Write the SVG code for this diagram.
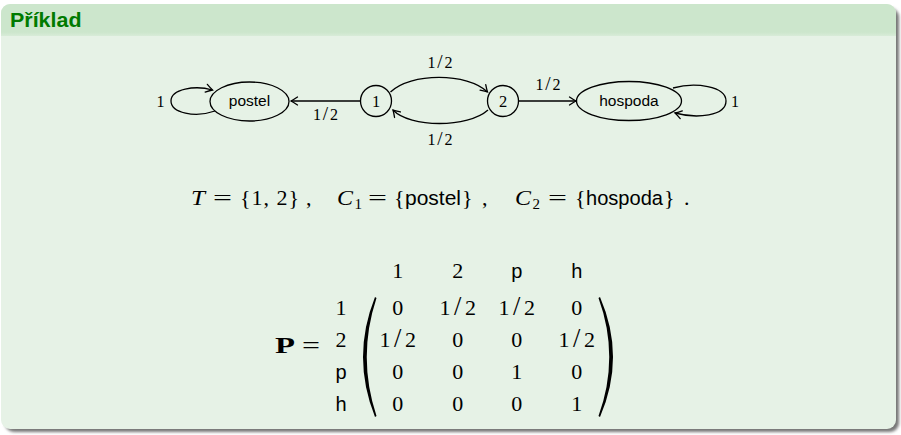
<svg xmlns="http://www.w3.org/2000/svg" width="901" height="435" viewBox="0 0 901 435">
<style>
.serif{font-family:"Liberation Serif","DejaVu Serif",serif;fill:#000}
.sans{font-family:"Liberation Sans","DejaVu Sans",sans-serif;fill:#000}
.it{font-style:italic}
.edge{fill:none;stroke:#000;stroke-width:1.3}
.node{fill:none;stroke:#000;stroke-width:1.3}
.lbl{font-size:16px;text-anchor:middle}
.nt{font-size:15.5px;text-anchor:middle}
.eq{font-size:22px}
.m{font-size:22px;text-anchor:middle}
.ms{font-size:20px;text-anchor:middle}
.sl{font-size:1.2em}
</style>
<defs>
<marker id="arr" markerUnits="userSpaceOnUse" markerWidth="12" markerHeight="12" viewBox="-8 -6 10 12" refX="0" refY="0" orient="auto">
<path d="M-6.5,-4 Q-2,-1 0,0 Q-2,1 -6.5,4" fill="none" stroke="#000" stroke-width="1.3" stroke-linecap="round"/>
</marker>
<filter id="sh" x="-5%" y="-5%" width="110%" height="110%">
<feGaussianBlur stdDeviation="1.5"/>
</filter>
<linearGradient id="hg" x1="0" y1="0" x2="0" y2="1">
<stop offset="0" stop-color="#cce6cc"/>
<stop offset="0.88" stop-color="#cce6cc"/>
<stop offset="1" stop-color="#d8ecd8"/>
</linearGradient>
</defs>

<g id="frame">
<rect x="5" y="8" width="894" height="424" rx="9" fill="#777" filter="url(#sh)"/>
<rect x="1" y="4" width="895" height="425" rx="9" fill="#e6f2e6"/>
<path d="M1,36 V13 A9,9 0 0 1 10,4 H887 A9,9 0 0 1 896,13 V36 Z" fill="url(#hg)"/>
<text x="10" y="27" style="font-family:'Liberation Sans','DejaVu Sans',sans-serif;font-weight:bold;font-size:19.5px;fill:#007a00" textLength="71.5" lengthAdjust="spacingAndGlyphs">Příklad</text>
</g>

<g id="node-postel">
<ellipse class="node" cx="249.5" cy="101.5" rx="39.5" ry="19.5"/>
<text class="sans nt" x="249.5" y="106">postel</text>
</g>
<g id="node-1">
<circle class="node" cx="376" cy="101" r="15.5"/>
<text class="serif" x="376" y="106.5" font-size="16.5" text-anchor="middle">1</text>
</g>
<g id="node-2">
<circle class="node" cx="503" cy="101" r="15.5"/>
<text class="serif" x="503" y="106.5" font-size="16.5" text-anchor="middle">2</text>
</g>
<g id="node-hospoda">
<ellipse class="node" cx="629" cy="101" rx="52.5" ry="19.5"/>
<text class="sans nt" x="629" y="106">hospoda</text>
</g>

<g id="connectors">
<path class="edge" d="M360.5,101 H291" marker-end="url(#arr)"/>
<path class="edge" d="M390.5,92 C410,72.5 468,72.5 487.5,92" marker-end="url(#arr)"/>
<path class="edge" d="M488,110 C468,128 410,128 393,110" marker-end="url(#arr)"/>
<path class="edge" d="M518.5,101 H576" marker-end="url(#arr)"/>
<path class="edge" d="M215,111 C195,118 171,113 171,101 C171,89 195,85 212.5,90" marker-end="url(#arr)"/>
<path class="edge" d="M673,88 C695,82 726,86 726,101 C726,116 697,119 675,113" marker-end="url(#arr)"/>
<text class="serif lbl" x="325.5" y="120">1<tspan class="sl" dx="1.8">/</tspan><tspan dx="1.8">2</tspan></text>
<text class="serif lbl" x="440" y="68">1<tspan class="sl" dx="1.8">/</tspan><tspan dx="1.8">2</tspan></text>
<text class="serif lbl" x="440" y="145">1<tspan class="sl" dx="1.8">/</tspan><tspan dx="1.8">2</tspan></text>
<text class="serif lbl" x="548" y="90">1<tspan class="sl" dx="1.8">/</tspan><tspan dx="1.8">2</tspan></text>
<text class="serif lbl" x="160.5" y="106.5">1</text>
<text class="serif lbl" x="735" y="106.5">1</text>
</g>

<g id="equation">
<text class="serif eq it" x="191" y="205" textLength="14" lengthAdjust="spacingAndGlyphs">T</text>
<text class="serif eq" x="213" y="205" textLength="19" lengthAdjust="spacingAndGlyphs">=</text>
<text class="serif eq" x="240" y="205" textLength="59" lengthAdjust="spacing">{1, 2}</text>
<text class="serif eq" x="306" y="205">,</text>
<text class="serif eq it" x="337" y="205" textLength="16" lengthAdjust="spacingAndGlyphs">C</text>
<text class="serif" x="354.5" y="209" font-size="15">1</text>
<text class="serif eq" x="368" y="205" textLength="19" lengthAdjust="spacingAndGlyphs">=</text>
<text class="serif eq" x="394" y="205">{</text>
<text class="sans" x="405" y="205" font-size="20.5" textLength="56" lengthAdjust="spacingAndGlyphs">postel</text>
<text class="serif eq" x="462" y="205">}</text>
<text class="serif eq" x="482" y="205">,</text>
<text class="serif eq it" x="515" y="205" textLength="16" lengthAdjust="spacingAndGlyphs">C</text>
<text class="serif" x="532.5" y="209" font-size="15">2</text>
<text class="serif eq" x="548" y="205" textLength="19" lengthAdjust="spacingAndGlyphs">=</text>
<text class="serif eq" x="575" y="205">{</text>
<text class="sans" x="586" y="205" font-size="20.5" textLength="77" lengthAdjust="spacingAndGlyphs">hospoda</text>
<text class="serif eq" x="664" y="205">}</text>
<text class="serif eq" x="684" y="205">.</text>
</g>

<g id="matrix">
<text class="serif" x="275" y="353" font-size="23" font-weight="bold" textLength="20" lengthAdjust="spacingAndGlyphs">P</text>
<text class="serif" x="302" y="353" font-size="23" textLength="18" lengthAdjust="spacingAndGlyphs">=</text>
<text class="serif m" x="397.7" y="278">1</text>
<text class="serif m" x="457.7" y="278">2</text>
<text class="sans ms" x="516.7" y="278">p</text>
<text class="sans ms" x="576.7" y="278">h</text>
<text class="serif m" x="341" y="315">1</text>
<text class="serif m" x="341" y="347">2</text>
<text class="sans ms" x="341" y="379">p</text>
<text class="sans ms" x="341" y="411">h</text>
<path d="M375,297 Q351,357 375,417 L376.5,416 Q357,357 376.5,298 Z" fill="#000"/>
<path d="M600,297 Q626,357 600,417 L598.5,416 Q620,357 598.5,298 Z" fill="#000"/>
<text class="serif m" x="397.7" y="315">0</text>
<text class="serif m" x="457.7" y="315">1<tspan class="sl" dx="3.6">/</tspan><tspan dx="3.6">2</tspan></text>
<text class="serif m" x="516.7" y="315">1<tspan class="sl" dx="3.6">/</tspan><tspan dx="3.6">2</tspan></text>
<text class="serif m" x="576.7" y="315">0</text>
<text class="serif m" x="397.7" y="347">1<tspan class="sl" dx="3.6">/</tspan><tspan dx="3.6">2</tspan></text>
<text class="serif m" x="457.7" y="347">0</text>
<text class="serif m" x="516.7" y="347">0</text>
<text class="serif m" x="576.7" y="347">1<tspan class="sl" dx="3.6">/</tspan><tspan dx="3.6">2</tspan></text>
<text class="serif m" x="397.7" y="379">0</text>
<text class="serif m" x="457.7" y="379">0</text>
<text class="serif m" x="516.7" y="379">1</text>
<text class="serif m" x="576.7" y="379">0</text>
<text class="serif m" x="397.7" y="411">0</text>
<text class="serif m" x="457.7" y="411">0</text>
<text class="serif m" x="516.7" y="411">0</text>
<text class="serif m" x="576.7" y="411">1</text>
</g>
</svg>
